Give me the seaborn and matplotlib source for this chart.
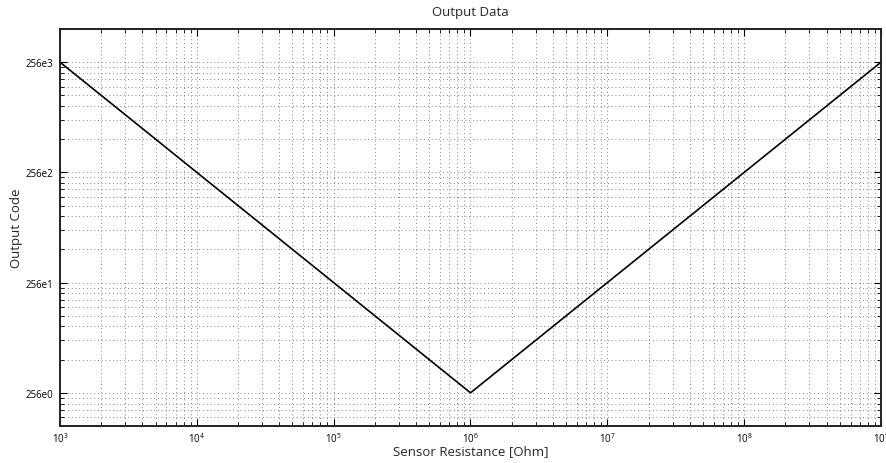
import numpy as np
import matplotlib
matplotlib.use('Agg')
import matplotlib.pyplot as plt
import seaborn as sns
import pandas as pd
from matplotlib.ticker import FixedLocator, NullFormatter, LogLocator

# Data
resistance = [1e3, 1e6, 1e9]
output_code = [256e3, 256e0, 256e3]
ytick_values = [256e0, 256e1, 256e2, 256e3]
ytick_labels = ['256e0', '256e1', '256e2', '256e3']
xtick_exponents = [3, 4, 5, 6, 7, 8, 9]

df = pd.DataFrame({'Sensor Resistance [Ohm]': resistance, 'Output Code': output_code})

sns.set_style('ticks')
plt.rcParams['font.family'] = ['Open Sans', 'DejaVu Sans']
plt.rcParams['mathtext.fontset'] = 'custom'
plt.rcParams['mathtext.rm'] = 'Open Sans'
plt.rcParams['mathtext.it'] = 'Open Sans'

fig = plt.figure(figsize=(8.86, 4.64), dpi=100)
ax = fig.add_axes([60 / 886, 37 / 464, 821 / 886, 397 / 464])

sns.lineplot(data=df, x='Sensor Resistance [Ohm]', y='Output Code', ax=ax,
             color='black', linewidth=1.2, sort=False, estimator=None)

ax.set_xscale('log')
ax.set_yscale('log')
ax.set_xlim(1e3, 1e9)
ax.set_ylim(ytick_values[0] / 2, ytick_values[-1] * 2)

# x ticks
ax.xaxis.set_major_locator(FixedLocator([10.0 ** e for e in xtick_exponents]))
ax.set_xticklabels([r'$10^{%d}$' % e for e in xtick_exponents])
ax.xaxis.set_minor_locator(LogLocator(base=10, subs=np.arange(2, 10)))
ax.xaxis.set_minor_formatter(NullFormatter())

# y ticks: decades anchored at 256
ax.yaxis.set_major_locator(FixedLocator(ytick_values))
ax.set_yticklabels(ytick_labels)
minor_y = []
for base in [ytick_values[0] / 10] + ytick_values:
    for n in range(2, 10):
        minor_y.append(base * n)
ax.yaxis.set_minor_locator(FixedLocator(minor_y))
ax.yaxis.set_minor_formatter(NullFormatter())

ax.tick_params(which='both', direction='in', top=True, right=True, labelsize=7, colors='black')
ax.tick_params(axis='y', which='major', length=5, width=0.8, pad=5)
ax.tick_params(axis='x', which='major', length=5, width=0.8, pad=4)
ax.tick_params(which='minor', length=3, width=0.6)

ax.grid(True, which='both', linestyle=(0, (1, 3.5)), color='#5a5a5a', linewidth=0.6)
ax.set_axisbelow(True)

for s in ax.spines.values():
    s.set_visible(True)
    s.set_linewidth(1.4)
    s.set_color('#222222')

ax.set_title('Output Data', fontsize=9.5, pad=10)
ax.set_xlabel('Sensor Resistance [Ohm]', fontsize=9.5, labelpad=-1)
ax.set_ylabel('Output Code', fontsize=9.5, labelpad=2)

fig.savefig('out.png', dpi=100)
